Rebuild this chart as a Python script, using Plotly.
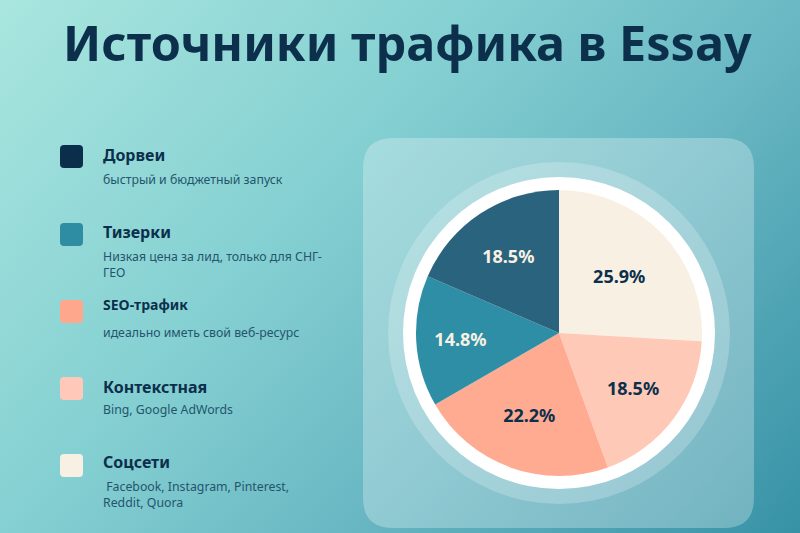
import base64
import plotly.graph_objects as go

# data
sources = ["Соцсети", "Контекстная", "SEO-трафик", "Тизерки", "Дорвеи"]
counts = [7, 5, 6, 4, 5]
slice_colors = ["#f8f1e3", "#ffc9b8", "#ffab92", "#2e8ea5", "#2a637d"]
label_colors = ["#0c2f4c", "#0c2f4c", "#0c2f4c", "#f8f1e3", "#f8f1e3"]

legend_names = ["Дорвеи", "Тизерки", "SEO-трафик", "Контекстная", "Соцсети"]
legend_notes = [
    "быстрый и бюджетный запуск",
    "Низкая цена за лид, только для СНГ-<br>ГЕО",
    "идеально иметь свой веб-ресурс",
    "Bing, Google AdWords",
    " Facebook, Instagram, Pinterest,<br>Reddit, Quora",
]
legend_colors = ["#0b2e4a", "#2e8ca3", "#ffa78d", "#ffc8b8", "#f8f1e3"]

W, H = 800, 533
NAVY = "#0c2f4c"
FONT = "Noto Sans"

# background gradient as an inline svg
svg = f"""<svg xmlns='http://www.w3.org/2000/svg' width='{W}' height='{H}'>
<defs><linearGradient id='g' gradientUnits='userSpaceOnUse' x1='0' y1='0' x2='803' y2='722'>
<stop offset='0' stop-color='#a9e6df'/>
<stop offset='0.33' stop-color='#85d0d2'/>
<stop offset='0.55' stop-color='#6bb9c4'/>
<stop offset='0.88' stop-color='#3792a6'/>
<stop offset='1' stop-color='#2f8ca3'/>
</linearGradient></defs>
<rect width='{W}' height='{H}' fill='url(#g)'/></svg>"""
bg = "data:image/svg+xml;base64," + base64.b64encode(svg.encode()).decode()

cx, cy, r = 559, 333, 143


def rounded(x0, y0, x1, y1, k):
    return (f"M{x0+k},{y0} L{x1-k},{y0} Q{x1},{y0} {x1},{y0+k} L{x1},{y1-k} "
            f"Q{x1},{y1} {x1-k},{y1} L{x0+k},{y1} Q{x0},{y1} {x0},{y1-k} "
            f"L{x0},{y0+k} Q{x0},{y0} {x0+k},{y0} Z")


fig = go.Figure()
fig.add_trace(go.Pie(
    labels=sources, values=counts, sort=False, direction="clockwise", rotation=0,
    marker=dict(colors=slice_colors, line=dict(width=0)),
    texttemplate="%{percent:.1%}", textposition="inside",
    insidetextorientation="horizontal",
    insidetextfont=dict(family=FONT, size=18, color=label_colors, weight="bold"),
    hoverinfo="label+percent", showlegend=False,
    domain=dict(x=[(cx - r) / W, (cx + r) / W], y=[(H - cy - r) / H, (H - cy + r) / H]),
))

shapes = []
# rounded panel behind the pie
shapes.append(dict(type="path", path=rounded(363, 138, 754, 528, 30), xref="x", yref="y",
                   layer="below", fillcolor="rgba(255,255,255,0.28)", line=dict(width=0)))
# halo and white ring
for rad, col in [(171, "rgba(255,255,255,0.22)"), (156, "white")]:
    shapes.append(dict(type="circle", xref="x", yref="y", layer="below",
                       x0=cx - rad, x1=cx + rad, y0=cy - rad, y1=cy + rad,
                       fillcolor=col, line=dict(width=0)))

# legend squares
sq_tops = [145, 223, 300, 377, 454]
for top, col in zip(sq_tops, legend_colors):
    shapes.append(dict(type="path", path=rounded(60, top, 83, top + 23, 4), xref="x", yref="y",
                       fillcolor=col, line=dict(width=0), layer="above"))

annotations = [dict(text="<b>Источники трафика в Essay</b>", x=407, y=42, xref="x", yref="y",
                    showarrow=False, xanchor="center", yanchor="middle",
                    font=dict(family=FONT, size=48.5, color=NAVY))]
name_base = [161, 238, 310, 393, 468]
note_base = [182, 259, 335, 412, 489]
for i, (nm, nt) in enumerate(zip(legend_names, legend_notes)):
    fs = 14 if nm == "SEO-трафик" else 16
    annotations.append(dict(text=f"<b>{nm}</b>", x=101, y=name_base[i] - fs * 0.36,
                            xref="x", yref="y", showarrow=False, xanchor="left", yanchor="middle",
                            font=dict(family=FONT, size=fs, color=NAVY)))
    annotations.append(dict(text=nt, x=101, y=note_base[i] - 13, xref="x", yref="y",
                            showarrow=False, xanchor="left", yanchor="top", align="left",
                            font=dict(family=FONT, size=12.3, color="#24556d")))

fig.update_layout(
    width=W, height=H, margin=dict(l=0, r=0, t=0, b=0),
    paper_bgcolor="#74c3c8", plot_bgcolor="rgba(0,0,0,0)",
    xaxis=dict(range=[0, W], visible=False, fixedrange=True),
    yaxis=dict(range=[H, 0], visible=False, fixedrange=True),
    images=[dict(source=bg, xref="paper", yref="paper", x=0, y=1, sizex=1, sizey=1,
                 sizing="stretch", layer="below", xanchor="left", yanchor="top")],
    shapes=shapes, annotations=annotations,
)

# drop the browser's default page margin so the figure fills the window
fig.write_html("out.html", config={"displayModeBar": False},
               post_script="document.body.style.margin='0';")
